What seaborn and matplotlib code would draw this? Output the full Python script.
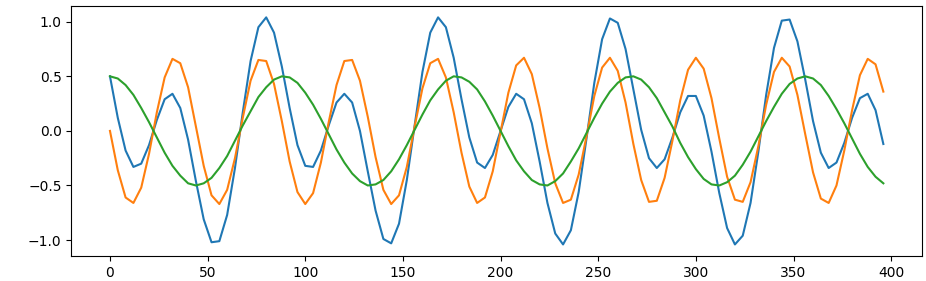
import matplotlib
matplotlib.use("Agg")
import matplotlib.pyplot as plt
import seaborn as sns
import pandas as pd

x_values = list(range(0, 400, 4))

blue_values = [
    0.50, 0.12, -0.18, -0.33, -0.30, -0.13, 0.10, 0.29, 0.34, 0.21,
    -0.08, -0.46, -0.81, -1.02, -1.01, -0.77, -0.34, 0.17, 0.64, 0.95,
    1.04, 0.90, 0.59, 0.21, -0.13, -0.32, -0.33, -0.18, 0.05, 0.26,
    0.34, 0.26, 0.00, -0.37, -0.73, -0.99, -1.03, -0.85, -0.45, 0.05,
    0.54, 0.90, 1.04, 0.95, 0.67, 0.29, -0.06, -0.29, -0.34, -0.22,
    0.00, 0.22, 0.34, 0.29, 0.07, -0.28, -0.66, -0.94, -1.04, -0.91,
    -0.56, -0.07, 0.44, 0.84, 1.03, 0.99, 0.75, 0.38, 0.01, -0.25,
    -0.34, -0.26, -0.06, 0.17, 0.32, 0.32, 0.14, -0.19, -0.57, -0.89,
    -1.04, -0.96, -0.66, -0.19, 0.33, 0.76, 1.01, 1.02, 0.82, 0.47,
    0.09, -0.20, -0.34, -0.29, -0.11, 0.12, 0.30, 0.34, 0.19, -0.12,
]

orange_values = [
    0.00, -0.36, -0.61, -0.66, -0.52, -0.21, 0.17, 0.49, 0.66, 0.62,
    0.40, 0.04, -0.32, -0.59, -0.67, -0.54, -0.25, 0.12, 0.46, 0.65,
    0.64, 0.43, 0.09, -0.28, -0.56, -0.67, -0.57, -0.29, 0.08, 0.42,
    0.64, 0.65, 0.46, 0.13, -0.24, -0.54, -0.67, -0.59, -0.33, 0.04,
    0.39, 0.62, 0.66, 0.49, 0.17, -0.20, -0.51, -0.66, -0.61, -0.37,
    -0.01, 0.35, 0.60, 0.67, 0.52, 0.21, -0.16, -0.48, -0.66, -0.63,
    -0.40, -0.05, 0.32, 0.58, 0.67, 0.55, 0.26, -0.12, -0.45, -0.65,
    -0.64, -0.43, -0.09, 0.28, 0.56, 0.67, 0.57, 0.30, -0.07, -0.42,
    -0.63, -0.65, -0.47, -0.14, 0.24, 0.54, 0.67, 0.59, 0.33, -0.03,
    -0.38, -0.62, -0.66, -0.50, -0.18, 0.19, 0.51, 0.66, 0.61, 0.36,
]

green_values = [
    0.50, 0.48, 0.42, 0.33, 0.21, 0.08, -0.06, -0.20, -0.32, -0.41,
    -0.48, -0.50, -0.48, -0.43, -0.34, -0.23, -0.09, 0.05, 0.18, 0.31,
    0.40, 0.47, 0.50, 0.49, 0.44, 0.35, 0.24, 0.11, -0.03, -0.17,
    -0.29, -0.39, -0.46, -0.50, -0.49, -0.45, -0.37, -0.26, -0.13, 0.01,
    0.15, 0.28, 0.38, 0.46, 0.50, 0.49, 0.45, 0.38, 0.27, 0.14,
    0.00, -0.14, -0.27, -0.37, -0.45, -0.49, -0.50, -0.46, -0.39, -0.28,
    -0.16, -0.02, 0.12, 0.25, 0.36, 0.44, 0.49, 0.50, 0.47, 0.40,
    0.30, 0.17, 0.04, -0.11, -0.24, -0.35, -0.44, -0.49, -0.50, -0.47,
    -0.41, -0.31, -0.19, -0.05, 0.09, 0.22, 0.34, 0.43, 0.48, 0.50,
    0.48, 0.42, 0.32, 0.20, 0.07, -0.07, -0.21, -0.33, -0.42, -0.48,
]

series_colors = ["#1f77b4", "#ff7f0e", "#2ca02c"]

fig = plt.figure(figsize=(9.26, 2.81), dpi=100)
ax = fig.add_axes([0.077, 0.0897, 0.9187, 0.8889])

for vals, col in zip([blue_values, orange_values, green_values], series_colors):
    df = pd.DataFrame({"x": x_values, "y": vals})
    sns.lineplot(data=df, x="x", y="y", ax=ax, color=col, linewidth=1.5)

ax.set_xlabel("")
ax.set_ylabel("")
ax.set_xticks([0, 50, 100, 150, 200, 250, 300, 350, 400])
ax.set_yticks([-1.0, -0.5, 0.0, 0.5, 1.0])

fig.savefig("out.png", dpi=100)
